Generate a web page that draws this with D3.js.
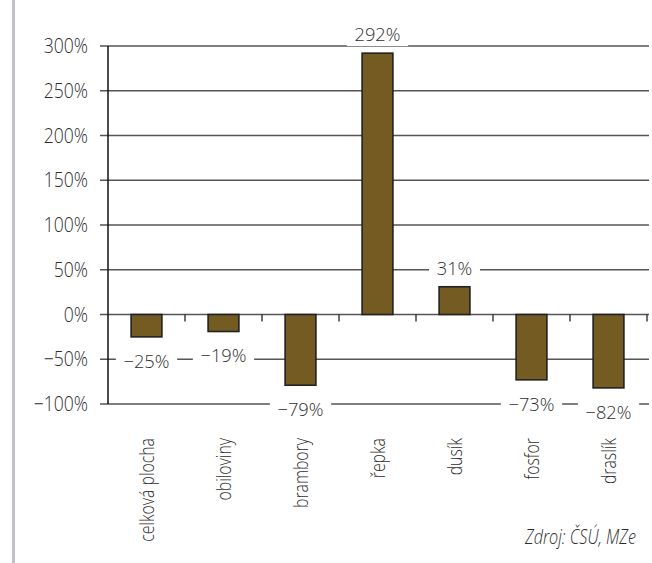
<!DOCTYPE html>
<html><head><meta charset="utf-8">
<script src="https://cdn.jsdelivr.net/npm/d3@7"></script>
<style>
html,body{margin:0;padding:0;background:#fff;}
text{font-family:"Open Sans",sans-serif;font-weight:350;fill:#2e2e2e;}
</style></head>
<body>
<svg id="c" width="652" height="563"></svg>
<script>
const categories = ["celková plocha","obiloviny","brambory","řepka","dusík","fosfor","draslík"];
const values = [-25,-19,-79,292,31,-73,-82];
const valueLabels = ["\u221225%","\u221219%","\u221279%","292%","31%","\u221273%","\u221282%"];
const tickValues = [300,250,200,150,100,50,0,-50,-100];
const tickLabels = ["300%","250%","200%","150%","100%","50%","0%","\u221250%","\u2212100%"];
const source = "Zdroj: ČSÚ, MZe";

const svg = d3.select("#c");
const pLeft = 108, pRight = 647, pTop = 46, pBottom = 404;
const x = d3.scaleBand().domain(categories).range([pLeft,pRight]).paddingInner(0.6).paddingOuter(0.3);
const xb = d3.scaleBand().domain(categories).range([pLeft,pRight]);
const y = d3.scaleLinear().domain([-100,300]).range([pBottom,pTop]);

// left page border
svg.append("rect").attr("x",12).attr("y",0).attr("width",3).attr("height",563).attr("fill","#c2c2ca");

// gridlines
svg.append("g").selectAll("line").data(tickValues).join("line")
  .attr("x1",100).attr("x2",649).attr("y1",d=>y(d)).attr("y2",d=>y(d))
  .attr("stroke","#555").attr("stroke-width",1.5);

// tick labels
svg.append("g").selectAll("text").data(tickValues).join("text")
  .attr("transform",d=>`translate(88,${y(d)}) scale(0.88,1)`)
  .attr("dy","0.36em").attr("text-anchor","end")
  .attr("font-size",20).text((d,i)=>tickLabels[i]);

// vertical axis
svg.append("line").attr("x1",pLeft).attr("x2",pLeft).attr("y1",y(300)).attr("y2",y(-100))
  .attr("stroke","#111").attr("stroke-width",1.5);

// category ticks on zero line
svg.append("g").selectAll("line").data(categories).join("line")
  .attr("x1",d=>xb(d)+xb.bandwidth()).attr("x2",d=>xb(d)+xb.bandwidth())
  .attr("y1",y(0)).attr("y2",y(0)+7).attr("stroke","#222").attr("stroke-width",1.3);

// bars
svg.append("g").selectAll("rect").data(values).join("rect")
  .attr("x",(d,i)=>x(categories[i])).attr("width",x.bandwidth())
  .attr("y",d=>y(Math.max(0,d))).attr("height",d=>Math.abs(y(d)-y(0)))
  .attr("fill","#745b21").attr("stroke","#222").attr("stroke-width",1.6);

// value labels with white background
const lg = svg.append("g");
values.forEach((v,i)=>{
  const cx = x(categories[i]) + x.bandwidth()/2;
  const cy = v < 0 ? y(v) + 24 : y(v) - 19;
  const g = lg.append("g").attr("transform",`translate(${cx},${cy}) scale(0.96,1)`);
  const t = g.append("text").attr("dy","0.36em")
    .attr("text-anchor","middle").attr("font-size",19).text(valueLabels[i]);
  const bb = t.node().getBBox();
  g.insert("rect","text").attr("x",bb.x-8).attr("y",bb.y).attr("width",bb.width+16).attr("height",bb.height).attr("fill","#fff");
});

// category labels
svg.append("g").selectAll("text").data(categories).join("text")
  .attr("transform",d=>`translate(${xb(d)+xb.bandwidth()/2},438) rotate(-90) scale(0.79,1)`)
  .attr("dy","0.36em").attr("text-anchor","end").attr("font-size",20).text(d=>d);

// source
svg.append("text").attr("transform","translate(636,544) scale(0.83,1)").attr("text-anchor","end")
  .attr("font-size",19.5).attr("font-style","italic").text(source);
</script>
</body></html>
